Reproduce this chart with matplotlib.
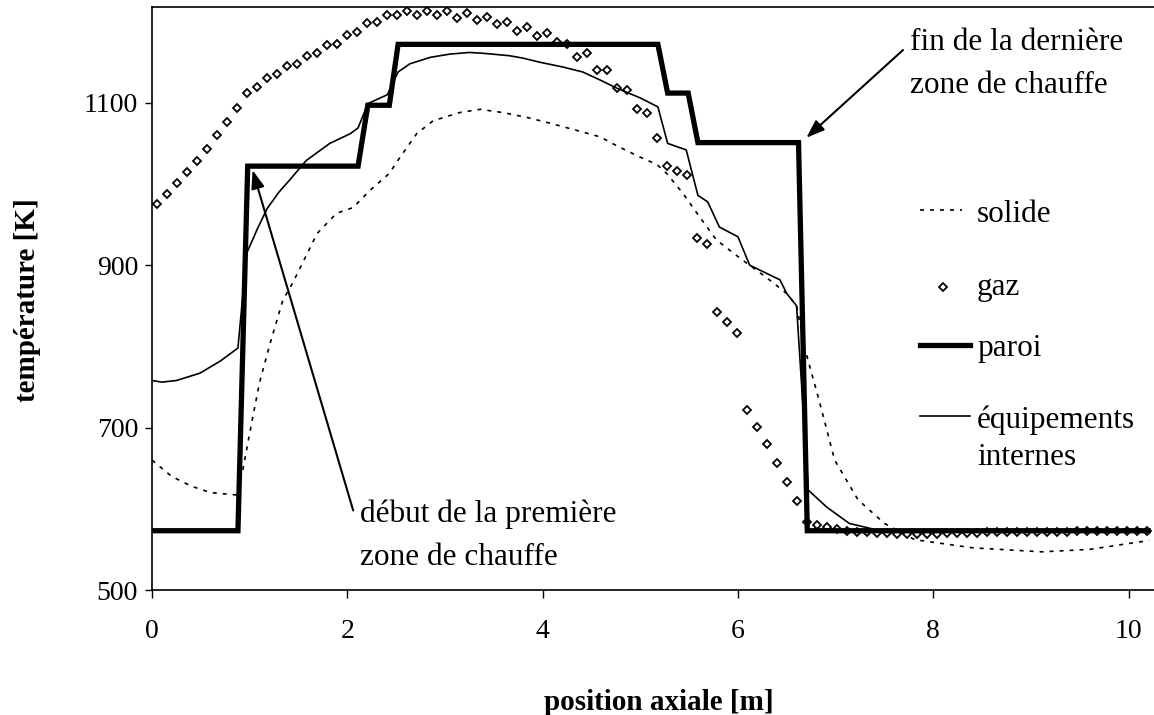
import numpy as np
import matplotlib

matplotlib.use("Agg")
from matplotlib import pyplot as plt

plt.rcParams["font.family"] = ["Liberation Serif", "DejaVu Serif"]

# --- data ---------------------------------------------------------------
# solid (dotted line)
solide_x = [0.0, 0.2, 0.4, 0.6, 0.87, 0.93, 1.0, 1.1, 1.21, 1.34, 1.44, 1.69,
            1.89, 2.06, 2.23, 2.43, 2.54, 2.71, 2.88, 3.15, 3.36, 3.59, 3.84,
            4.04, 4.35, 4.59, 4.76, 5.0, 5.17, 5.27, 5.44, 5.61, 5.78, 6.05,
            6.29, 6.5, 6.6, 6.69, 6.83, 6.99, 7.23, 7.5, 7.81, 8.4, 9.11, 9.6,
            10.21]
solide_t = [660, 640, 628, 620, 617, 648, 693, 755, 804, 857, 878, 939,
            964, 971, 992, 1013, 1033, 1062, 1078, 1088, 1092, 1088, 1082,
            1076, 1066, 1058, 1047, 1033, 1024, 1013, 988, 959, 931, 906,
            885, 865, 850, 795, 734, 660, 611, 582, 562, 552, 547, 550,
            561]

# gas (one marker per axial cell)
CELL_WIDTH = 0.1024
gaz_t = [975, 988, 1001, 1015, 1028, 1043, 1060, 1076, 1093, 1112,
         1120, 1130, 1136, 1145, 1148, 1158, 1161, 1171, 1173, 1184,
         1187, 1198, 1199, 1208, 1208, 1213, 1208, 1213, 1208, 1213,
         1205, 1210, 1202, 1206, 1197, 1200, 1189, 1193, 1182, 1186,
         1175, 1173, 1157, 1161, 1141, 1141, 1118, 1116, 1092, 1087,
         1057, 1022, 1016, 1011, 934, 926, 842, 830, 816, 722,
         701, 680, 656, 633, 610, 584, 580, 577, 575, 573,
         572, 571, 570, 570, 569, 569, 569, 569, 569, 570,
         570, 570, 570, 571, 571, 571, 571, 572, 572, 572,
         572, 572, 573, 573, 573, 573, 573, 573, 573, 573]

# wall (thick step line)
paroi_x = [0.0, 0.88, 0.98, 2.11, 2.21, 2.43, 2.52, 5.18, 5.28, 5.49, 5.59,
           6.62, 6.71, 10.2]
paroi_t = [573, 573, 1022, 1022, 1097, 1097, 1172, 1172, 1112, 1112, 1051,
           1051, 573, 573]

# internal equipment (thin line)
equip_x = [0.0, 0.1, 0.25, 0.49, 0.7, 0.88, 0.97, 1.08, 1.18, 1.3, 1.41,
           1.58, 1.82, 2.03, 2.11, 2.21, 2.41, 2.52, 2.64, 2.85, 3.05, 3.25,
           3.39, 3.66, 3.8, 3.97, 4.21, 4.41, 4.59, 4.76, 5.0, 5.18, 5.28,
           5.47, 5.59, 5.69, 5.81, 6.0, 6.12, 6.43, 6.5, 6.6, 6.72, 6.91,
           7.14, 7.42, 8.0, 10.2]
equip_t = [758, 756, 758, 767, 782, 798, 915, 945, 970, 990, 1005,
           1029, 1050, 1062, 1069, 1099, 1110, 1138, 1148, 1156, 1160, 1162,
           1161, 1158, 1155, 1150, 1144, 1138, 1128, 1118, 1106, 1095, 1050,
           1042, 986, 978, 947, 935, 900, 882, 865, 850, 623, 602,
           582, 574, 572, 572]

x_ticks = [0, 2, 4, 6, 8, 10]
y_ticks = [500, 700, 900, 1100]

gaz_x = (np.arange(len(gaz_t)) + 0.5) * CELL_WIDTH

# --- figure ---------------------------------------------------------------
fig = plt.figure(figsize=(11.54, 7.15), dpi=100)
ax = fig.add_axes([152 / 1154, 1 - 590 / 715, 1002 / 1154, 583 / 715])

ax.plot(solide_x, solide_t, color="black", lw=1.2, linestyle=(0, (2.4, 3.6)),
        zorder=2)
ax.plot(gaz_x, gaz_t, linestyle="none", marker="D", ms=3.9, mfc="white",
        mec="black", mew=1.3, zorder=3)
ax.plot(equip_x, equip_t, color="black", lw=1.2, zorder=4)
ax.plot(paroi_x, paroi_t, color="black", lw=3.8, solid_joinstyle="miter",
        zorder=5)

ax.set_xlim(0, 10.26)
ax.set_ylim(500, 1218)
ax.set_xticks(x_ticks)
ax.set_yticks(y_ticks)
ax.tick_params(axis="y", direction="out", length=5, width=1, pad=5,
               labelsize=20)
ax.tick_params(axis="x", direction="out", length=6, width=1, pad=15,
               labelsize=20)
for side in ("left", "top", "bottom"):
    ax.spines[side].set_linewidth(1.2)
ax.spines["right"].set_visible(False)

fig.text(27.5 / 1154, 1 - 300 / 715, "température [K]", rotation=90,
         ha="center", va="center", fontsize=21, fontweight="bold")
fig.text(659 / 1154, 1 - 703 / 715, "position axiale [m]", ha="center",
         va="center", fontsize=21, fontweight="bold")

# annotations
text_size = 22.5
arrow_style = dict(arrowstyle="-|>,head_length=0.55,head_width=0.2",
                   color="black", lw=1.5, shrinkA=0, shrinkB=0,
                   mutation_scale=20)
ax.annotate("", xy=(1.03, 1017), xytext=(2.06, 598), arrowprops=arrow_style)
ax.text(2.13, 584, "début de la première", fontsize=text_size, va="baseline")
ax.text(2.13, 531, "zone de chauffe", fontsize=text_size, va="baseline")
ax.annotate("", xy=(6.70, 1057), xytext=(7.69, 1165), arrowprops=arrow_style)
ax.text(7.76, 1165, "fin de la dernière", fontsize=text_size, va="baseline")
ax.text(7.76, 1112, "zone de chauffe", fontsize=text_size, va="baseline")

# hand-placed legend
tr = ax.transAxes
ax.plot([0.7665, 0.8084], [0.6518, 0.6518], color="black", lw=1.2,
        linestyle=(0, (2.4, 3.6)), transform=tr, clip_on=False)
ax.text(0.8234, 0.6312, "solide", fontsize=text_size, va="baseline",
        transform=tr)
ax.plot([0.7894], [0.5197], marker="D", ms=3.9, mfc="white", mec="black",
        mew=1.3, transform=tr, clip_on=False)
ax.text(0.8234, 0.506, "gaz", fontsize=text_size, va="baseline", transform=tr)
ax.plot([0.7665, 0.8164], [0.4202, 0.4202], color="black", lw=3.8,
        transform=tr, clip_on=False)
ax.text(0.8234, 0.4014, "paroi", fontsize=text_size, va="baseline",
        transform=tr)
ax.plot([0.7665, 0.8164], [0.2985, 0.2985], color="black", lw=1.2,
        transform=tr, clip_on=False)
ax.text(0.8234, 0.2779, "équipements", fontsize=text_size, va="baseline",
        transform=tr)
ax.text(0.8234, 0.2144, "internes", fontsize=text_size, va="baseline",
        transform=tr)

fig.savefig("out.png", dpi=100)
